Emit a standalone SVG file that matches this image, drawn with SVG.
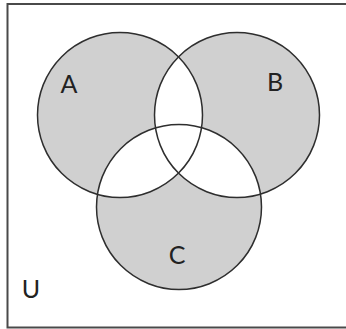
<svg xmlns="http://www.w3.org/2000/svg" width="346" height="329" viewBox="0 0 346 329">
<style>
.fillc{fill:#d0d0d0;stroke:none}
.hole{fill:#ffffff;stroke:none}
.edge{fill:none;stroke:#2e2e2e;stroke-width:1.5}
.lbl{font-family:Lato,"Open Sans",sans-serif;font-size:25px;fill:#222;text-anchor:middle}
</style>
<defs>
<clipPath id="clipA"><circle cx="120" cy="115" r="82.5"/></clipPath>
<clipPath id="clipB"><circle cx="237" cy="115" r="82.5"/></clipPath>
</defs>
<rect x="0" y="0" width="346" height="329" fill="#ffffff"/>
<g id="U">
<path d="M350 4 H7.5 V327.5 H350" fill="none" stroke="#4a4a4a" stroke-width="2"/>
<text class="lbl" x="31" y="298">U</text>
</g>
<g id="fills">
<circle class="fillc" cx="120" cy="115" r="82.5"/>
<circle class="fillc" cx="237" cy="115" r="82.5"/>
<circle class="fillc" cx="179" cy="207" r="82.5"/>
<circle class="hole" cx="237" cy="115" r="82.5" clip-path="url(#clipA)"/>
<circle class="hole" cx="179" cy="207" r="82.5" clip-path="url(#clipA)"/>
<circle class="hole" cx="179" cy="207" r="82.5" clip-path="url(#clipB)"/>
</g>
<g id="A">
<circle class="edge" cx="120" cy="115" r="82.5"/>
<text class="lbl" x="69" y="93">A</text>
</g>
<g id="B">
<circle class="edge" cx="237" cy="115" r="82.5"/>
<text class="lbl" x="275" y="91">B</text>
</g>
<g id="C">
<circle class="edge" cx="179" cy="207" r="82.5"/>
<text class="lbl" x="177" y="264">C</text>
</g>
</svg>
